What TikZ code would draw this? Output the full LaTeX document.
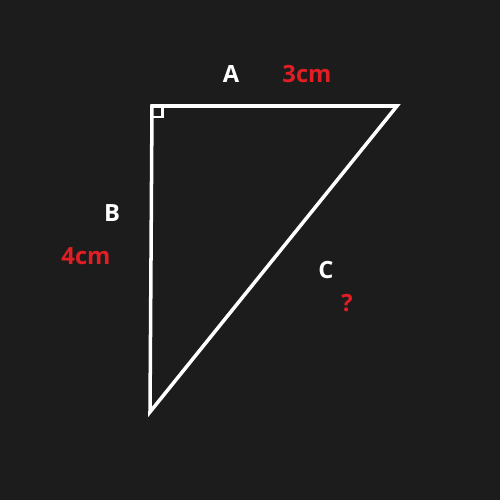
\documentclass[tikz,border=0pt]{standalone}
\usepackage{fontspec}
\setmainfont{Open Sans}
\definecolor{bg}{RGB}{28,28,28}
\definecolor{lbl}{RGB}{226,30,36}
\begin{document}
\begin{tikzpicture}[x=0.02cm,y=-0.02cm,
	side/.style={white, line width=2pt, line join=miter},
	sidename/.style={white, font=\fontsize{13.5}{15}\selectfont\bfseries},
	sidelen/.style={lbl, font=\fontsize{13.5}{15}\selectfont\bfseries}]
			\fill[bg] (0,0) rectangle (500,500);
			\useasboundingbox (0,0) rectangle (500,500);
			\coordinate (P) at (152,106);
			\coordinate (Q) at (397,106);
			\coordinate (R) at (150,412);
			\draw[side] (P) -- (Q) -- (R) -- cycle;
			\draw[white, line width=1.3pt] (152,117) -- (162.5,117) -- (162.5,106);
			\node[sidename] (a) at (231,74) {A};
			\node[sidelen] (a3) at (307,74) {3cm};
			\node[sidename] (b) at (112,213) {B};
			\node[sidelen] (b4) at (86,256) {4cm};
			\node[sidename] (c) at (326,270) {C};
			\node[sidelen] (cq) at (347,303) {?};
	\end{tikzpicture}
\end{document}
